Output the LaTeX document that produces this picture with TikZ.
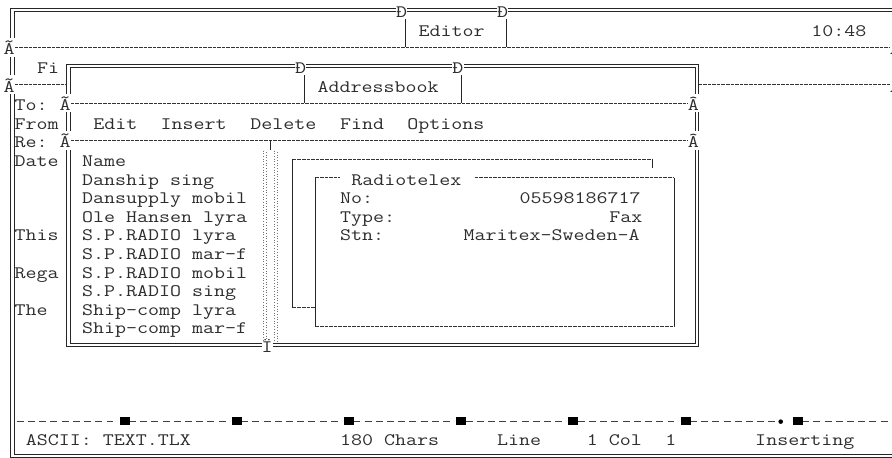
\documentclass[tikz,border=0pt]{standalone}
\usepackage{fontspec}
\tikzset{
  txt/.style={anchor=base west, inner sep=0pt, outer sep=0pt, xscale=1.221,
              text=black!82, font=\ttfamily\fontsize{17.5}{18}\selectfont},
  dline/.style={draw=black!85, line width=0.8pt},
  hline/.style={draw=black!80, line width=0.8pt, dash pattern=on 3.6pt off 1pt},
  vline/.style={draw=black!85, line width=0.8pt},
  ruler/.style={draw=black!75, line width=0.9pt},
  shade/.style={draw=black!55, line width=0.9pt, dash pattern=on 0.9pt off 1.8pt},
}
% text on the character grid: name, column, row, text
\newcommand\tx[4]{\node[txt] (#1) at (#2,#3+0.403) {#4};}
% junction glyph that replaces a line cell
\newcommand\jg[4]{\fill[white] (#2,#3-0.5) rectangle (#2+1,#3+0.5);
  \node[txt] (#1) at (#2,#3+0.403) {#4};}
\begin{document}
\begin{tikzpicture}[x=11.22pt, y=-18.6pt]
\useasboundingbox[fill=white] (-0.312,-0.548) rectangle (79.189,24.075);

% ---- editor window frame (double line: outer and inner strokes)
\draw[dline] (80,-0.089) -- (0.643,-0.089) -- (0.643,24.039) -- (80,24.039);
\draw[dline] (80,0.089) -- (0.937,0.089) -- (0.937,23.861) -- (80,23.861);
\draw[vline] (35.79,0.5) -- (35.79,2);
\draw[vline] (44.79,0.5) -- (44.79,2);
\draw[hline] (1,2) -- (79,2);
\draw[hline, line width=1.3pt] (1,4) -- (5.64,4);
\draw[hline, line width=1.3pt] (61.94,4) -- (79,4);

% ---- addressbook window (double frame)
\fill[white] (5.643,2.911) rectangle (61.937,18.089);
\draw[dline] (5.643,2.911) rectangle (61.937,18.089);
\draw[dline] (5.937,3.089) rectangle (61.643,17.911);
\draw[vline] (26.79,3.5) -- (26.79,5);
\draw[vline] (40.79,3.5) -- (40.79,5);
\draw[hline] (6,5) -- (61,5);
\draw[hline] (6,7) -- (61,7);
\draw[vline, line width=1.6pt] (23.79,7) -- (23.79,7.5);

% ---- back panel
\draw[hline] (25.79,8) -- (57.79,8);
\draw[vline] (57.79,8) -- (57.79,8.5);
\draw[vline] (25.79,8) -- (25.79,16);
\draw[hline] (25.79,16) -- (27.79,16);

% ---- Radiotelex panel
\draw[hline] (27.79,9) -- (30,9);
\draw[hline] (42,9) -- (59.79,9);
\draw[vline] (27.79,9) -- (27.79,17);
\draw[vline] (59.79,9) -- (59.79,17);
\draw[hline] (27.79,17) -- (59.79,17);

% ---- junction glyphs
\jg{ja}{0}{2}{Ã}
\jg{jb}{0}{4}{Ã}
\jg{jc}{79}{2}{Â}
\jg{jd}{79}{4}{Â}
\jg{je}{35}{0}{Ð}
\jg{jf}{44}{0}{Ð}
\jg{jg}{26}{3}{Ð}
\jg{jh}{40}{3}{Ð}
\jg{ji}{5}{5}{Ã}
\jg{jj}{5}{7}{Ã}
\jg{jk}{61}{5}{Â}
\jg{jl}{61}{7}{Â}
\fill[white] (23,17.88) rectangle (24,18.5);
\node[txt] (jm) at (23,18.403) {Ï};

% ---- scroll bar shading
\foreach \u/\ph in {23.17/0, 23.42/1.35, 24.14/0, 24.41/1.35}
  \draw[shade, dash phase=\ph pt] (\u,7.55) -- (\u,17.85);

% ---- ruler
\foreach \c in {1,...,79}{
  \pgfmathtruncatemacro\m{mod(\c,10)}
  \ifnum\m=0\relax\else
    \ifnum\c=69\relax\else
      \draw[ruler] (\c+0.18,22.1) -- (\c+0.8,22.1);
    \fi
  \fi
}
\foreach \c in {10,20,...,70}
  \fill[black] (\c+0.34,22.1-0.207) rectangle (\c+1.24,22.1+0.207);
\fill[black] (69.27,22.12) circle (2.3pt);

% ---- texts
\tx{t1}{37}{1}{Editor}
\tx{t2}{72}{1}{10:48}
\tx{t3}{3}{3}{Fi}
\tx{t4}{28}{4}{Addressbook}
\tx{t5}{1}{5}{To:}
\tx{t6}{1}{6}{From}
\tx{m1}{8}{6}{Edit}
\tx{m2}{14}{6}{Insert}
\tx{m3}{22}{6}{Delete}
\tx{m4}{30}{6}{Find}
\tx{m5}{36}{6}{Options}
\tx{t7}{1}{7}{Re:}
\tx{t8}{1}{8}{Date}
\tx{t9}{1}{12}{This}
\tx{t10}{1}{14}{Rega}
\tx{t11}{1}{16}{The}

\tx{n0}{7}{8}{Name}
\tx{n1}{7}{9}{Danship sing}
\tx{n2}{7}{10}{Dansupply mobil}
\tx{n3}{7}{11}{Ole Hansen lyra}
\tx{n4}{7}{12}{S.P.RADIO lyra}
\tx{n5}{7}{13}{S.P.RADIO mar-f}
\tx{n6}{7}{14}{S.P.RADIO mobil}
\tx{n7}{7}{15}{S.P.RADIO sing}
\tx{n8}{7}{16}{Ship-comp lyra}
\tx{n9}{7}{17}{Ship-comp mar-f}

\tx{r0}{31}{9}{Radiotelex}
\tx{r1}{30}{10}{No:}
\tx{r2}{46}{10}{05598186717}
\tx{r3}{30}{11}{Type:}
\tx{r4}{54}{11}{Fax}
\tx{r5}{30}{12}{Stn:}
\tx{r6}{41}{12}{Maritex-Sweden-A}

\tx{s1}{2}{23}{ASCII: TEXT.TLX}
\tx{s2}{30}{23}{180 Chars}
\tx{s3}{44}{23}{Line}
\tx{s4}{52}{23}{1 Col}
\tx{s5}{59}{23}{1}
\tx{s6}{67}{23}{Inserting}
\end{tikzpicture}
\end{document}
